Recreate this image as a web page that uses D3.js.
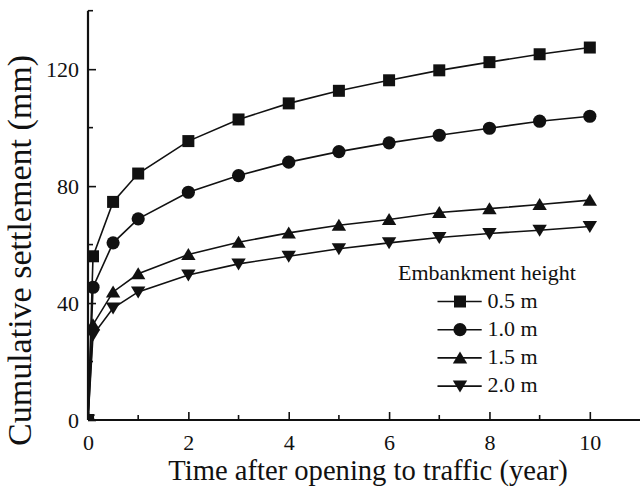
<!DOCTYPE html>
<html><head><meta charset="utf-8">
<script src="https://cdn.jsdelivr.net/npm/d3@7"></script>
<style>body{margin:0;background:#fff}svg{display:block}text{font-family:"Liberation Serif","Times New Roman",serif;fill:#111}</style>
</head><body><svg id="c" width="640" height="488"></svg>
<script>
const years = [0, 0.1, 0.5, 1, 2, 3, 4, 5, 6, 7, 8, 9, 10];
const h05 = [0, 56.0, 74.6, 84.3, 95.4, 102.8, 108.3, 112.6, 116.2, 119.6, 122.4, 125.1, 127.4];
const h10 = [0, 45.4, 60.6, 68.8, 77.9, 83.6, 88.2, 91.8, 94.8, 97.4, 99.8, 102.2, 103.9];
const h15 = [0, 32.6, 43.8, 50.0, 56.6, 60.8, 64.0, 66.6, 68.6, 71.0, 72.3, 73.7, 75.2];
const h20 = [0, 29.1, 38.3, 43.8, 49.6, 53.4, 56.0, 58.6, 60.6, 62.4, 63.8, 64.9, 66.2];
const seriesNames = ["0.5 m", "1.0 m", "1.5 m", "2.0 m"];
const seriesShapes = ["square", "circle", "up", "down"];
const xTicks = [0, 2, 4, 6, 8, 10];
const yTicks = [0, 40, 80, 120];

const svg = d3.select("#c");
const ink = "#111";
const x = d3.scaleLinear().domain([0, 11]).range([88, 640]);
const y = d3.scaleLinear().domain([0, 140]).range([420, 10.7]);

function shapePath(s) {
  if (s === "square") return "M-6,-6H6V6H-6Z";
  if (s === "circle") return d3.symbol(d3.symbolCircle, Math.PI * 6.6 * 6.6)();
  if (s === "up") return "M0,-6.5L7.2,5.5L-7.2,5.5Z";
  return "M0,6.5L7.2,-5.5L-7.2,-5.5Z";
}

svg.append("defs").append("clipPath").attr("id", "clip")
  .append("rect").attr("x", 88).attr("y", 0).attr("width", 552).attr("height", 420);

const all = [h05, h10, h15, h20];
const plot = svg.append("g").attr("clip-path", "url(#clip)");
const line = d3.line().x((d, i) => x(years[i])).y(d => y(d));
all.forEach((vals, k) => {
  plot.append("path").attr("d", line(vals)).attr("fill", "none")
    .attr("stroke", ink).attr("stroke-width", 1.6);
  plot.selectAll(null).data(vals).enter().append("path")
    .attr("d", shapePath(seriesShapes[k]))
    .attr("transform", (d, i) => `translate(${x(years[i])},${y(d)})`)
    .attr("fill", ink);
});

const xAxis = d3.axisBottom(x).tickValues(xTicks).tickSize(-8).tickPadding(14).tickFormat(d3.format("d"));
const gx = svg.append("g").attr("transform", "translate(0,420)").call(xAxis);
const yAxis = d3.axisLeft(y).tickValues(yTicks).tickSize(-8).tickPadding(9).tickFormat(d3.format("d"));
const gy = svg.append("g").attr("transform", "translate(88,0)").call(yAxis);
[gx, gy].forEach(g => {
  g.attr("font-family", "Liberation Serif");
  g.select(".domain").attr("stroke", ink).attr("stroke-width", 2.2);
  g.selectAll(".tick line").attr("stroke", ink).attr("stroke-width", 1.6);
  g.selectAll(".tick text").attr("font-size", 22).attr("fill", ink);
});
gx.select(".domain").attr("d", `M${x(0)},0H640`);
gy.select(".domain").attr("d", `M0,${y(140)}V${y(0)}`);
svg.append("g").selectAll("line").data([1, 3, 5, 7, 9]).enter().append("line")
  .attr("x1", d => x(d)).attr("x2", d => x(d)).attr("y1", 420).attr("y2", 415)
  .attr("stroke", ink).attr("stroke-width", 1.6);
svg.append("g").selectAll("line").data([20, 60, 100, 140]).enter().append("line")
  .attr("y1", d => y(d)).attr("y2", d => y(d)).attr("x1", 88).attr("x2", 93)
  .attr("stroke", ink).attr("stroke-width", 1.6);

svg.append("text").attr("x", 368).attr("y", 480).attr("text-anchor", "middle")
  .attr("font-size", 28.6).text("Time after opening to traffic (year)");
svg.append("text").attr("transform", "translate(31,250.5) rotate(-90)").attr("text-anchor", "middle")
  .attr("font-size", 34).text("Cumulative settlement (mm)");

const lg = svg.append("g");
lg.append("text").attr("x", 398).attr("y", 280).attr("font-size", 22).text("Embankment height");
seriesNames.forEach((n, k) => {
  const cy = 301.5 + k * 28.2;
  lg.append("line").attr("x1", 437.5).attr("x2", 481.7).attr("y1", cy).attr("y2", cy)
    .attr("stroke", ink).attr("stroke-width", 1.6);
  lg.append("path").attr("d", shapePath(seriesShapes[k])).attr("transform", `translate(460,${cy})`).attr("fill", ink);
  lg.append("text").attr("x", 487.5).attr("y", cy + 6).attr("font-size", 22).text(n);
});
</script></body></html>
